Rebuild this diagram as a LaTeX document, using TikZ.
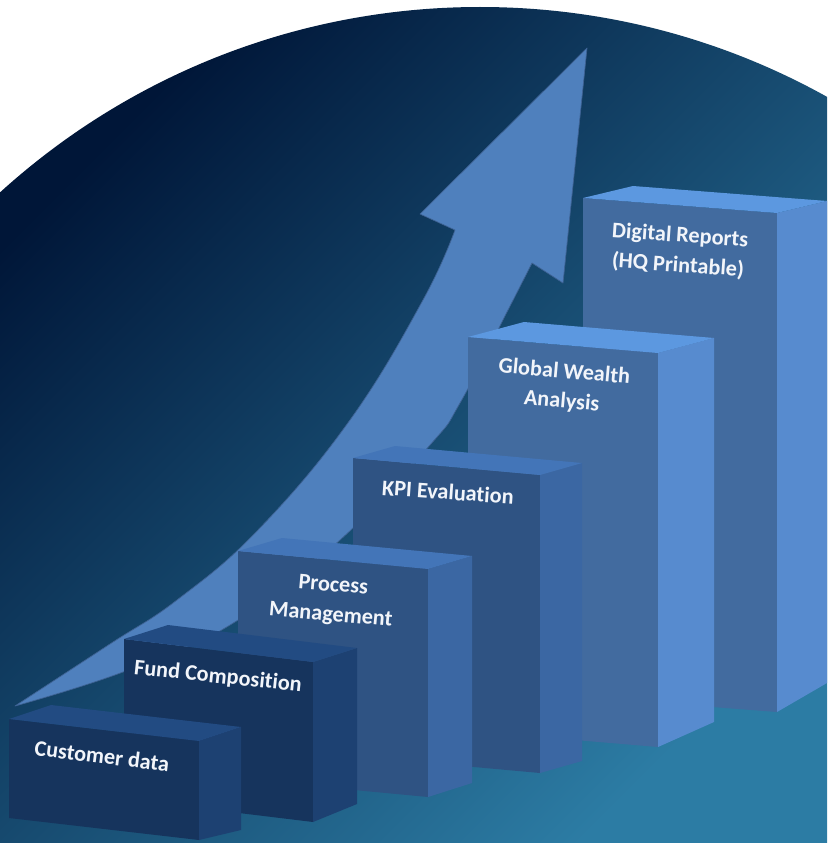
\documentclass[tikz,border=0pt]{standalone}
\usepackage{fontspec}
\setmainfont{Carlito}[Ligatures=NoCommon]

\definecolor{bgdark}{RGB}{0,22,56}
\definecolor{bgmid}{RGB}{22,64,102}
\definecolor{bgteal}{RGB}{44,124,164}
\definecolor{arrowblue}{RGB}{79,128,189}
\definecolor{arrowedge}{RGB}{62,98,148}
\definecolor{labelwhite}{RGB}{242,245,250}
\definecolor{navyfront}{RGB}{22,52,93}
\definecolor{navyside}{RGB}{29,65,114}
\definecolor{navytop}{RGB}{34,75,130}
\definecolor{midfront}{RGB}{47,83,131}
\definecolor{midside}{RGB}{59,103,163}
\definecolor{midtop}{RGB}{67,117,184}
\definecolor{skyfront}{RGB}{66,107,159}
\definecolor{skyside}{RGB}{87,139,207}
\definecolor{skytop}{RGB}{92,152,224}

% x y width slope height depth-x depth-y bottom-depth-y colourset
\newcommand{\pillar}[9]{%
  \fill[#9front] ({#1},{#2}) -- ({#1+#3},{#2+#4}) -- ({#1+#3},{#2+#4+#5}) -- ({#1},{#2+#5}) -- cycle;
  \fill[#9side] ({#1+#3},{#2+#4}) -- ({#1+#3+#6},{#2+#4+(#7)}) -- ({#1+#3+#6},{#2+#4+#5+(#8)}) -- ({#1+#3},{#2+#4+#5}) -- cycle;
  \fill[#9top] ({#1},{#2}) -- ({#1+#6},{#2+(#7)}) -- ({#1+#3+#6},{#2+#4+(#7)}) -- ({#1+#3},{#2+#4}) -- cycle;
}

\begin{document}
\begin{tikzpicture}[x=0.03cm,y=-0.03cm,
  arrowbody/.style={fill=arrowblue,draw=arrowedge,line width=0.6pt,line join=round},
  pillarlabel/.style={text=labelwhite,font=\bfseries\fontsize{19}{25.5}\selectfont,align=center,inner sep=0pt}]
    \useasboundingbox (0,0) rectangle (827,843);
    \fill[white] (0,0) rectangle (827,843);
    \begin{scope}
      \clip (480,721) circle[radius=714];
      \shade[top color=bgdark,middle color=bgmid,bottom color=bgteal,shading angle=45] (0,0) rectangle (827,843);
    \end{scope}

    % the rising arrow
    \path[arrowbody] plot[smooth,tension=0.7] coordinates {(15,706) (110,644) (177,600) (258,530) (350,420) (423,300) (455,230)}
      -- (420,214) -- (587,48) -- (563,283) -- (532,263)
      -- plot[smooth,tension=0.7] coordinates {(532,263) (508,310) (460,403) (430,445) (340,540) (230,625) (123,672) (15,706)} -- cycle;

    % the steps, back to front
    \pillar{583}{198}{194}{15}{499}{50}{-12}{-29}{sky}
    \pillar{468}{337}{190}{16}{394}{56}{-15}{-25}{sky}
    \pillar{353}{458}{187}{17}{298}{42}{-12}{-12}{mid}
    \pillar{238}{551}{190}{18}{228}{44}{-13}{-14}{mid}
    \pillar{124}{639}{189}{23}{160}{44}{-14}{-18}{navy}
    \pillar{9}{719}{190}{22}{99}{42}{-14}{-10}{navy}

    \node[pillarlabel,rotate=-4] (digital) at (679,251) {Digital Reports\\(HQ Printable)};
    \node[pillarlabel,rotate=-5] (global) at (563,387) {Global Wealth\\Analysis};
    \node[pillarlabel,rotate=-4] (kpi) at (448,492) {KPI Evaluation};
    \node[pillarlabel,rotate=-5] (process) at (332,601) {Process\\Management};
    \node[pillarlabel,rotate=-6] (fund) at (218,677) {Fund Composition};
    \node[pillarlabel,rotate=-7] (customer) at (102,756) {Customer data};
\end{tikzpicture}
\end{document}
